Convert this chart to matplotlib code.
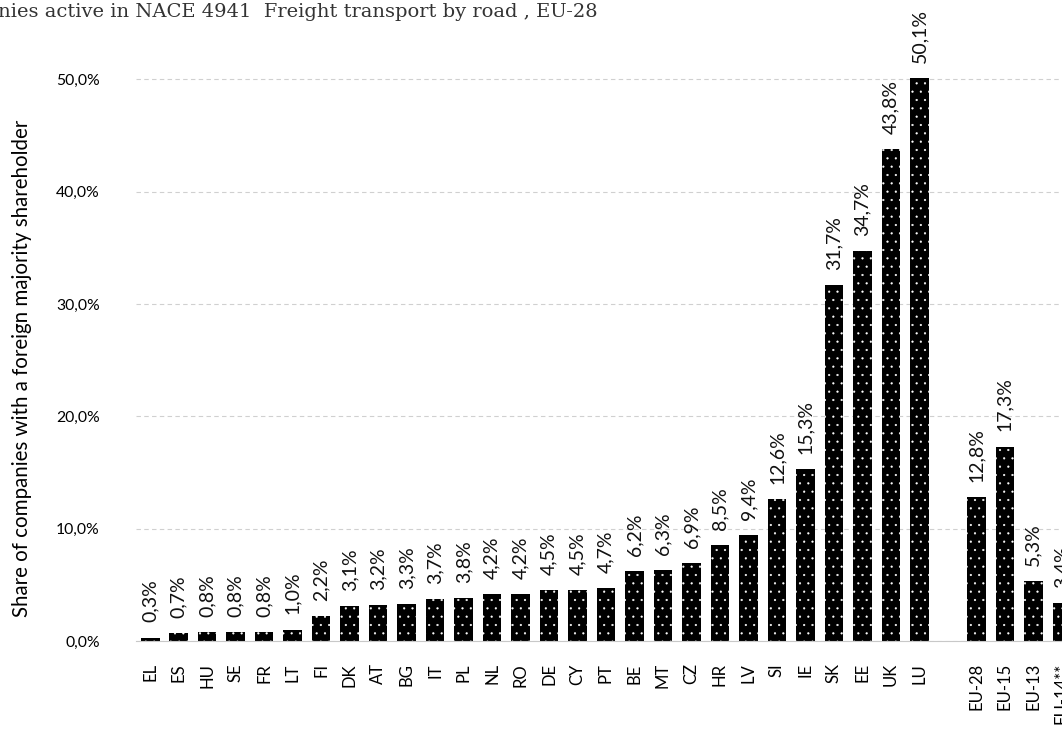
import matplotlib.pyplot as plt
import numpy as np

# 國家 / 數值
countries = ["EL", "ES", "HU", "SE", "FR", "LT", "FI", "DK", "AT", "BG", "IT", "PL",
             "NL", "RO", "DE", "CY", "PT", "BE", "MT", "CZ", "HR", "LV", "SI", "IE",
             "SK", "EE", "UK", "LU"]
country_vals = [0.3, 0.7, 0.8, 0.8, 0.8, 1.0, 2.2, 3.1, 3.2, 3.3, 3.7, 3.8,
                4.2, 4.2, 4.5, 4.5, 4.7, 6.2, 6.3, 6.9, 8.5, 9.4, 12.6, 15.3,
                31.7, 34.7, 43.8, 50.1]
groups = ["EU-28", "EU-15", "EU-13", "EU-14**"]
group_vals = [12.8, 17.3, 5.3, 3.4]

plt.rc('font', family=['Lato', 'DejaVu Sans'])
plt.rc('hatch', linewidth=0.35)

fig = plt.figure(figsize=(10.62, 7.37), dpi=100)
ax = fig.add_axes([136 / 1062, 1 - 641 / 737, (1076 - 136) / 1062, (641 - 23) / 737])

labels = countries + [""] + groups
vals = country_vals + [np.nan] + group_vals
x = np.arange(len(labels))

# 黑底白點
bars = ax.bar(x, vals, width=0.65, color="black", edgecolor="white",
              linewidth=0, hatch="..")

for xi, v in zip(x, vals):
    if np.isnan(v):
        continue
    txt = f"{v:.1f}".replace(".", ",") + "%"
    ax.annotate(txt, (xi, v), xytext=(0, 11), textcoords="offset points",
                rotation=90, ha="center", va="bottom", fontsize=14,
                color="#111111")

ax.set_xlim(-0.5, len(labels) - 0.5)
ax.set_ylim(0, 55)
ax.set_yticks(np.arange(0, 51, 10))
ax.set_yticklabels([f"{t:.1f}".replace(".", ",") + "%" for t in np.arange(0, 51, 10)],
                   fontsize=11.3)
ax.set_xticks(x)
ax.set_xticklabels(labels, rotation=90, fontsize=12)
ax.tick_params(axis="both", length=0)
ax.tick_params(axis="y", pad=26)
ax.tick_params(axis="x", pad=16)

ax.grid(axis="y", color="#d0d0d0", linestyle=(0, (4, 3)), linewidth=0.8)
ax.set_axisbelow(True)
for s in ["top", "right", "left"]:
    ax.spines[s].set_visible(False)
ax.spines["bottom"].set_color("#c8c8c8")

fig.text(22 / 1062, 1 - 368 / 737,
         "Share of companies with a foreign majority shareholder",
         rotation=90, ha="center", va="center", fontsize=14.8)

fig.text(598 / 1062, 1 - 17 / 737,
         "Share of companies active in NACE 4941  Freight transport by road , EU-28",
         ha="right", va="baseline", fontsize=14, family="DejaVu Serif",
         color="#333333")

fig.savefig("out.png", dpi=100)
